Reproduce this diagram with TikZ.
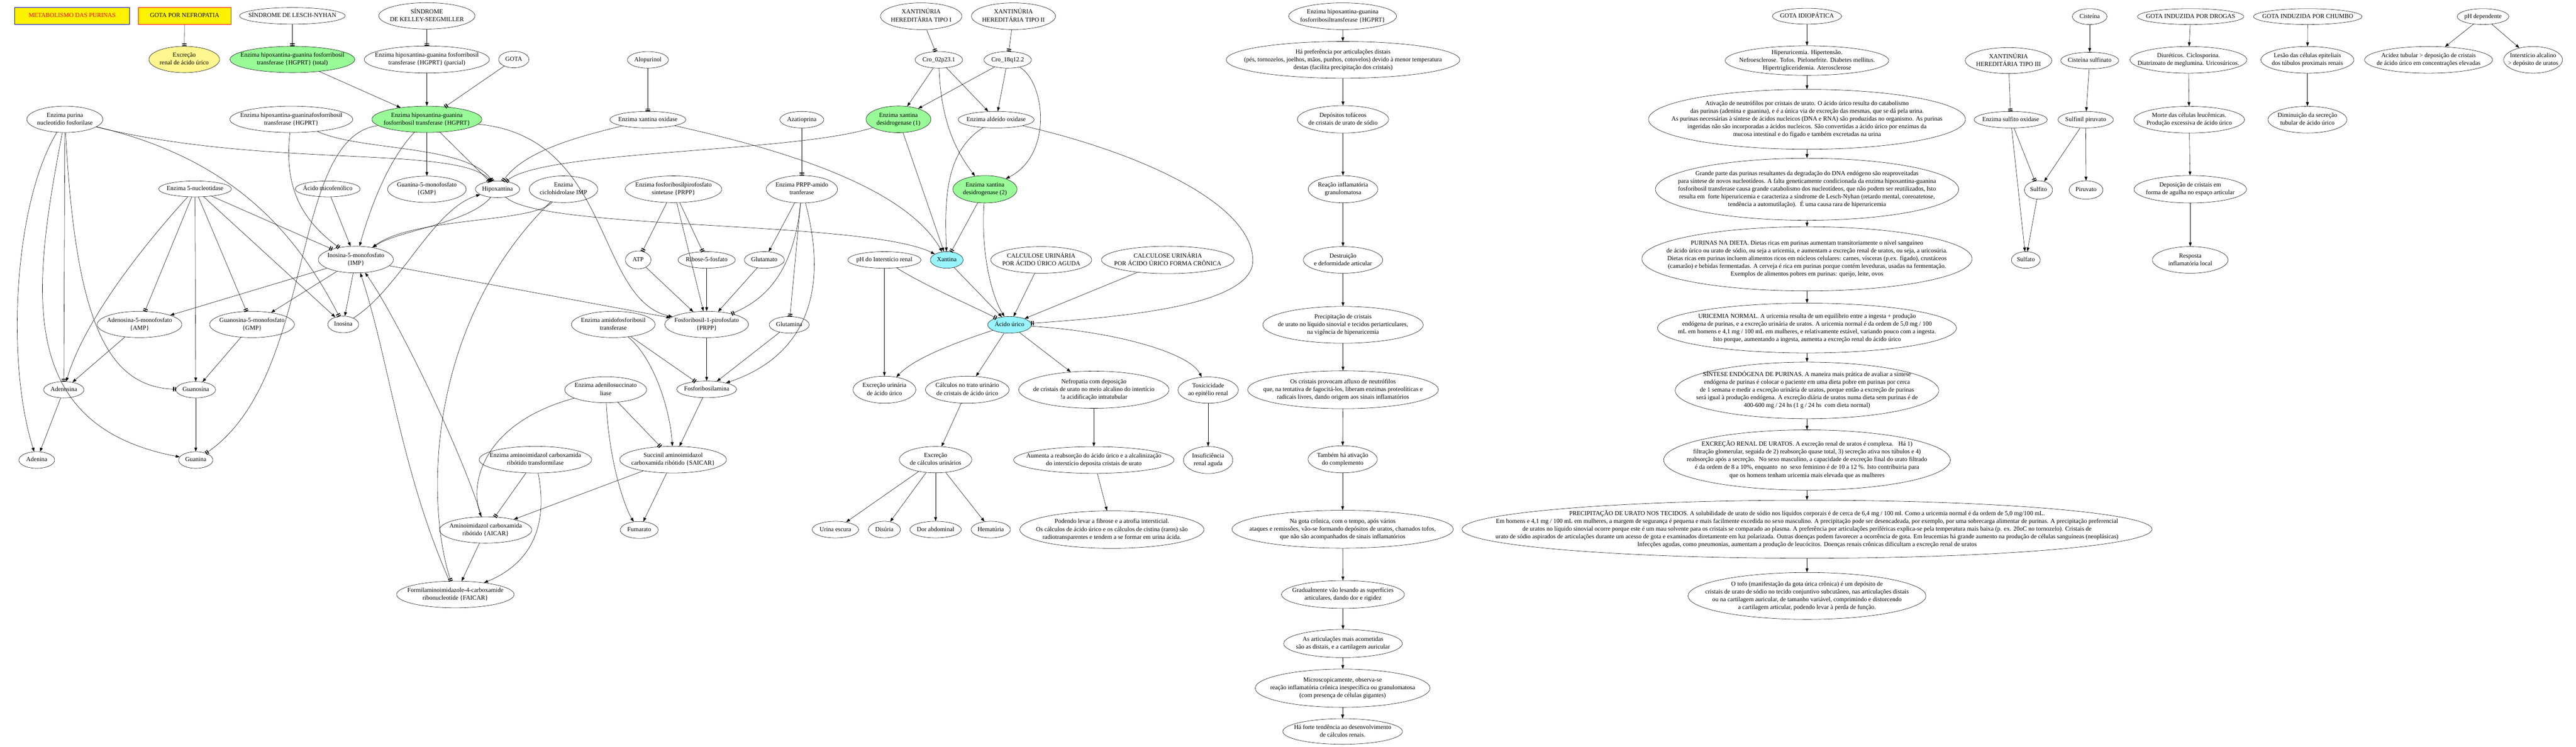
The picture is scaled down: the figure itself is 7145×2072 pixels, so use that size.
\documentclass[tikz,border=0pt]{standalone}
\usepackage{fontspec}
\setmainfont{Liberation Serif}
\usetikzlibrary{shapes.geometric,arrows.meta}
\definecolor{verde}{HTML}{98FB98}
\definecolor{ciano}{HTML}{98F5FF}
\definecolor{caqui}{HTML}{FFF68F}
\newcommand\fonte{\fontsize{17.2}{21.5}\selectfont}
\newcommand\rotulo[1]{\makebox[0pt]{\smash{\raisebox{-0.25em}{\begin{tabular}{@{}c@{}}#1\end{tabular}}}}}

\begin{document}
\begin{tikzpicture}[x=1pt,y=1pt,
  every node/.style={font=\fonte},
  elo/.style={ellipse, draw, line width=0.8pt, inner sep=0pt},
  cx/.style={rectangle, draw, line width=0.8pt, inner sep=0pt},
  tam/.style 2 args={minimum width=#1pt, minimum height=#2pt},
  seta/.style={line width=0.8pt, -{Triangle[length=11pt,width=8pt]}},
  inibe/.style={line width=0.8pt, -{Bar[width=12pt,line width=2.4pt,sep=2.6pt]Bar[width=12pt,line width=2.4pt]}}]
\useasboundingbox (0,0) rectangle (7145,-2072);
% vertices: vias das purinas
\node[cx, tam={318}{48}, fill=yellow, draw=blue, text=red] (meta) at (200,-44) {\rotulo{METABOLISMO DAS PURINAS}};
\node[cx, tam={257}{48}, fill=yellow, draw=red] (gotanef) at (512,-44) {\rotulo{GOTA POR NEFROPATIA}};
\node[elo, tam={293}{46}] (lesch) at (811,-44) {\rotulo{SÍNDROME DE LESCH-NYHAN}};
\node[elo, tam={267}{73}] (kelley) at (1184,-44) {\rotulo{SÍNDROME\\DE KELLEY-SEEGMILLER}};
\node[elo, tam={196}{73}, fill=caqui] (excren) at (511,-165) {\rotulo{Excreção\\renal de ácido úrico}};
\node[elo, tam={346}{73}, fill=verde] (hgprtt) at (811,-165) {\rotulo{Enzima hipoxantina-guanina fosforribosil\\transferase \{HGPRT\} (total)}};
\node[elo, tam={347}{75}] (hgprtp) at (1184,-165) {\rotulo{Enzima hipoxantina-guanina fosforribosil\\transferase \{HGPRT\} (parcial)}};
\node[elo, tam={84}{46}] (gota) at (1425,-165) {\rotulo{GOTA}};
\node[elo, tam={114}{46}] (alop) at (1797,-166) {\rotulo{Alopurinol}};
\node[elo, tam={211}{73}] (pnp) at (180,-331) {\rotulo{Enzima purina\\nucleotídio fosforilase}};
\node[elo, tam={341}{73}] (hgprt2) at (808,-331) {\rotulo{Enzima hipoxantina-guaninafosforribosil\\transferase \{HGPRT\}}};
\node[elo, tam={305}{73}, fill=verde] (hgprt) at (1184,-331) {\rotulo{Enzima hipoxantina-guanina\\fosforribosil transferase \{HGPRT\}}};
\node[elo, tam={211}{46}] (xo) at (1797,-332) {\rotulo{Enzima xantina oxidase}};
\node[elo, tam={202}{44}] (nuc5) at (541,-524) {\rotulo{Enzima 5-nucleotidase}};
\node[elo, tam={180}{44}] (mico) at (909,-524) {\rotulo{Ácido micofenólico}};
\node[elo, tam={218}{73}] (gmpa) at (1184,-525) {\rotulo{Guanina-5-monofosfato\\\{GMP\}}};
\node[elo, tam={123}{46}] (hipox) at (1380,-525) {\rotulo{Hipoxantina}};
\node[elo, tam={190}{74}] (ciclo) at (1563,-525) {\rotulo{Enzima\\ciclohidrolase IMP}};
\node[elo, tam={268}{74}] (prpps) at (1868,-525) {\rotulo{Enzima fosforibosilpirofosfato\\sintetase \{PRPP\}}};
\node[elo, tam={208}{74}] (imp) at (987,-720) {\rotulo{Inosina-5-monofosfato\\\{IMP\}}};
\node[elo, tam={71}{50}] (atp) at (1770,-721) {\rotulo{ATP}};
\node[elo, tam={159}{46}] (rib) at (1960,-721) {\rotulo{Ribose-5-fosfato}};
\node[elo, tam={111}{46}] (glut) at (2120,-721) {\rotulo{Glutamato}};
\node[elo, tam={235}{73}] (amp) at (387,-900) {\rotulo{Adenosina-5-monofosfato\\\{AMP\}}};
\node[elo, tam={235}{73}] (gmp) at (699,-900) {\rotulo{Guanosina-5-monofosfato\\\{GMP\}}};
\node[elo, tam={86}{46}] (inos) at (952,-900) {\rotulo{Inosina}};
\node[elo, tam={232}{73}] (amido) at (1701,-900) {\rotulo{Enzima amidofosforibosil\\transferase}};
\node[elo, tam={232}{73}] (prpp) at (1960,-900) {\rotulo{Fosforibosil-1-pirofosfato\\\{PRPP\}}};
\node[elo, tam={111}{46}] (glutm) at (2189,-901) {\rotulo{Glutamina}};
\node[elo, tam={112}{45}] (adenos) at (177,-1081) {\rotulo{Adenosina}};
\node[elo, tam={110}{45}] (guanos) at (543,-1081) {\rotulo{Guanosina}};
\node[elo, tam={227}{72}] (adsl) at (1680,-1081) {\rotulo{Enzima adenilosuccinato\\liase}};
\node[elo, tam={166}{46}] (pra) at (1960,-1080) {\rotulo{Fosforibosilamina}};
\node[elo, tam={99}{46}] (aden) at (102,-1276) {\rotulo{Adenina}};
\node[elo, tam={95}{46}] (guan) at (543,-1276) {\rotulo{Guanina}};
\node[elo, tam={312}{74}] (transf) at (1485,-1275) {\rotulo{Enzima aminoimidazol carboxamida\\ribótido transformilase}};
\node[elo, tam={296}{74}] (saicar) at (1867,-1275) {\rotulo{Succinil aminoimidazol\\carboxamida ribótido \{SAICAR\}}};
\node[elo, tam={256}{73}] (aicar) at (1347,-1470) {\rotulo{Aminoimidazol carboxamida\\ribótido \{AICAR\}}};
\node[elo, tam={105}{47}] (fum) at (1773,-1470) {\rotulo{Fumarato}};
\node[elo, tam={326}{74}] (faicar) at (1263,-1649) {\rotulo{Formilaminoimidazole-4-carboxamide\\ribonucleotide \{FAICAR\}}};
% vertices: xantina e acido urico
\node[elo, tam={226}{74}] (xant1) at (2555,-45) {\rotulo{XANTINÚRIA\\HEREDITÁRIA TIPO I}};
\node[elo, tam={233}{74}] (xant2) at (2811,-45) {\rotulo{XANTINÚRIA\\HEREDITÁRIA TIPO II}};
\node[elo, tam={132}{46}] (cro2) at (2604,-166) {\rotulo{Cro\_02p23.1}};
\node[elo, tam={132}{46}] (cro18) at (2795,-166) {\rotulo{Cro\_18q12.2}};
\node[elo, tam={122}{46}] (azat) at (2224,-332) {\rotulo{Azatioprina}};
\node[elo, tam={180}{74}, fill=verde] (xdh1) at (2492,-331) {\rotulo{Enzima xantina\\desidrogenase (1)}};
\node[elo, tam={211}{46}] (aldox) at (2763,-332) {\rotulo{Enzima aldeído oxidase}};
\node[elo, tam={198}{76}] (prppat) at (2224,-525) {\rotulo{Enzima PRPP-amido\\tranferase}};
\node[elo, tam={178}{76}, fill=verde] (xdh2) at (2732,-525) {\rotulo{Enzima xantina\\desidrogenase (2)}};
\node[elo, tam={203}{46}] (phint) at (2453,-721) {\rotulo{pH do Interstício renal}};
\node[elo, tam={91}{46}, fill=ciano] (xant) at (2626,-721) {\rotulo{Xantina}};
\node[elo, tam={280}{74}] (calca) at (2888,-721) {\rotulo{CALCULOSE URINÁRIA\\POR ÁCIDO ÚRICO AGUDA}};
\node[elo, tam={368}{76}] (calcc) at (3239,-721) {\rotulo{CALCULOSE URINÁRIA\\POR ÁCIDO ÚRICO FORMA CRÔNICA}};
\node[elo, tam={121}{46}, fill=ciano] (acur) at (2800,-901) {\rotulo{Ácido úrico}};
\node[elo, tam={174}{75}] (excur) at (2453,-1081) {\rotulo{Excreção urinária\\de ácido úrico}};
\node[elo, tam={232}{75}] (calcu) at (2683,-1081) {\rotulo{Cálculos no trato urinário\\de cristais de ácido úrico}};
\node[elo, tam={417}{103}] (nefro) at (3034,-1081) {\rotulo{Nefropatia com deposição\\de cristais de urato no meio alcalino do intertício\\!a acidificação intratubular}};
\node[elo, tam={167}{73}] (toxi) at (3351,-1082) {\rotulo{Toxicicidade\\ao epitélio renal}};
\node[elo, tam={201}{73}] (exccal) at (2595,-1275) {\rotulo{Excreção\\de cálculos urinários}};
\node[elo, tam={445}{74}] (aumenta) at (3034,-1276) {\rotulo{Aumenta a reabsorção do ácido úrico e a alcalinização\\do interstício deposita cristais de urato}};
\node[elo, tam={137}{75}] (insuf) at (3351,-1276) {\rotulo{Insuficiência\\renal aguda}};
\node[elo, tam={129}{46}] (urina) at (2317,-1469) {\rotulo{Urina escura}};
\node[elo, tam={89}{46}] (disu) at (2453,-1469) {\rotulo{Disúria}};
\node[elo, tam={143}{46}] (dor) at (2595,-1469) {\rotulo{Dor abdominal}};
\node[elo, tam={109}{46}] (hema) at (2748,-1469) {\rotulo{Hematúria}};
\node[elo, tam={511}{104}] (podendo) at (3084,-1469) {\rotulo{Podendo levar a fibrose e a atrofia intersticial.\\Os cálculos de ácido úrico e os cálculos de cistina (raros) são\\radiotransparentes e tendem a se formar em urina ácida.}};
% vertices: gota articular
\node[elo, tam={299}{74}] (hgprtd) at (3724,-45) {\rotulo{Enzima hipoxantina-guanina\\fosforribosiltransferase \{HGPRT\}}};
\node[elo, tam={648}{102}] (pref) at (3725,-166) {\rotulo{Há preferência por articulações distais\\(pés, tornozelos, joelhos, mãos, punhos, cotovelos) devido à menor temperatura\\destas (facilita precipitação dos cristais)}};
\node[elo, tam={253}{76}] (depos) at (3725,-331) {\rotulo{Depósitos tofáceos\\de cristais de urato de sódio}};
\node[elo, tam={193}{75}] (reac) at (3725,-525) {\rotulo{Reação inflamatória\\granulomatosa}};
\node[elo, tam={220}{74}] (destr) at (3725,-721) {\rotulo{Destruição\\e deformidade articular}};
\node[elo, tam={445}{102}] (precip) at (3725,-901) {\rotulo{Precipitação de cristais\\de urato no líquido sinovial e tecidos periarticulares,\\na vigência de hiperuricemia}};
\node[elo, tam={529}{105}] (crist) at (3725,-1081) {\rotulo{Os cristais provocam afluxo de neutrófilos\\que, na tentativa de fagocitá-los, liberam enzimas proteolíticas e\\radicais livres, dando origem aos sinais inflamatórios}};
\node[elo, tam={192}{75}] (compl) at (3724,-1274) {\rotulo{Também há ativação\\do complemento}};
\node[elo, tam={614}{105}] (cronica) at (3724,-1468) {\rotulo{Na gota crônica, com o tempo, após vários\\ataques e remissões, vão-se formando depósitos de uratos, chamados tofos,\\que não são acompanhados de sinais inflamatórios}};
\node[elo, tam={341}{77}] (grad) at (3725,-1649) {\rotulo{Gradualmente vão lesando as superfícies\\articulares, dando dor e rigidez}};
\node[elo, tam={329}{78}] (artic) at (3725,-1785) {\rotulo{As articulações mais acometidas\\são as distais, e a cartilagem auricular}};
\node[elo, tam={485}{106}] (micro) at (3724,-1909) {\rotulo{Microscopicamente, observa-se\\reação inflamatória crônica inespecífica ou granulomatosa\\(com presença de células gigantes)}};
\node[elo, tam={332}{71}] (tend) at (3724,-2029) {\rotulo{Há forte tendência ao desenvolvimento\\de cálculos renais.}};
% vertices: gota idiopatica
\node[elo, tam={192}{44}] (idio) at (5012,-45) {\rotulo{GOTA IDIOPÁTICA}};
\node[elo, tam={454}{82}] (hiper) at (5012,-168) {\rotulo{Hiperuricemia. Hipertensão.\\Nefroesclerose. Tofos. Pielonefrite. Diabetes mellitus.\\Hipertrigliceridemia. Aterosclerose}};
\node[elo, tam={879}{166}] (ativ) at (5012,-331) {\rotulo{Ativação de neutrófilos por cristais de urato. O ácido úrico resulta do catabolismo\\das purinas (adenina e guanina), e é a única via de excreção das mesmas, que se dá pela urina.\\As purinas necessárias à síntese de ácidos nucleicos (DNA e RNA) são produzidas no organismo. As purinas\\ingeridas não são incorporadas a ácidos nucleicos. São convertidas a ácido úrico por enzimas da\\mucosa intestinal e do fígado e também excretadas na urina}};
\node[elo, tam={841}{172}] (grande) at (5012,-525) {\rotulo{Grande parte das purinas resultantes da degradação do DNA endógeno são reaproveitadas\\para síntese de novos nucleotídeos. A falta geneticamente condicionada da enzima hipoxantina-guanina\\fosforibosil transferase causa grande catabolismo dos nucleotídeos, que não podem ser reutilizados, Isto\\resulta em \ forte hiperuricemia e caracteriza a síndrome de Lesch-Nyhan (retardo mental, coreoatetose,\\tendência a automutilação). \ É uma causa rara de hiperuricemia}};
\node[elo, tam={916}{178}] (dieta) at (5012,-718) {\rotulo{PURINAS NA DIETA. Dietas ricas em purinas aumentam transitoriamente o nível sanguíneo\\de ácido úrico ou urato de sódio, ou seja a uricemia, e aumentam a excreção renal de uratos, ou seja, a uricosúria.\\Dietas ricas em purinas incluem alimentos ricos em núcleos celulares: carnes, vísceras (p.ex. fígado), crustáceos\\(camarão) e bebidas fermentadas. A cerveja é rica em purinas porque contém leveduras, usadas na fermentação.\\Exemplos de alimentos pobres em purinas: queijo, leite, ovos}};
\node[elo, tam={829}{138}] (urnorm) at (5012,-910) {\rotulo{URICEMIA NORMAL. A uricemia resulta de um equilíbrio entre a ingesta + produção\\endógena de purinas, e a excreção urinária de uratos. A uricemia normal é da ordem de 5,0 mg / 100\\mL em homens e 4,1 mg / 100 mL em mulheres, e relativamente estável, variando pouco com a ingesta.\\Isto porque, aumentando a ingesta, aumenta a excreção renal do ácido úrico}};
\node[elo, tam={731}{157}] (sintese) at (5012,-1083) {\rotulo{SÍNTESE ENDÓGENA DE PURINAS. A maneira mais prática de avaliar a síntese\\endógena de purinas é colocar o paciente em uma dieta pobre em purinas por cerca\\de 1 semana e medir a excreção urinária de uratos, porque então a excreção de purinas\\será igual à produção endógena. A excreção diária de uratos numa dieta sem purinas é de\\400-600 mg / 24 hs (1 g / 24 hs \ com dieta normal)}};
\node[elo, tam={795}{167}] (excrenal) at (5012,-1276) {\rotulo{EXCREÇÃO RENAL DE URATOS. A excreção renal de uratos é complexa. \ \ Há 1)\\filtração glomerular, seguida de 2) reabsorção quase total, 3) secreção ativa nos túbulos e 4)\\reabsorção após a secreção. \ No sexo masculino, a capacidade de excreção final do urato filtrado\\é da ordem de 8 a 10\%, enquanto \ no \ sexo feminino é de 10 a 12 \%. Isto contribuiria para\\que os homens tenham uricemia mais elevada que as mulheres}};
\node[elo, tam={1914}{161}] (precur) at (5012,-1468) {\rotulo{PRECIPITAÇÃO DE URATO NOS TECIDOS. A solubilidade de urato de sódio nos líquidos corporais é de cerca de 6,4 mg / 100 ml. Como a uricemia normal é da ordem de 5,0 mg/100 mL.\\Em homens e 4,1 mg / 100 mL em mulheres, a margem de segurança é pequena e mais facilmente excedida no sexo masculino. A precipitação pode ser desencadeada, por exemplo, por uma sobrecarga alimentar de purinas. A precipitação preferencial\\de uratos no líquido sinovial ocorre porque este é um mau solvente para os cristais se comparado ao plasma. A preferência por articulações periféricas explica-se pela temperatura mais baixa (p. ex. 20oC no tornozelo). Cristais de\\urato de sódio aspirados de articulações durante um acesso de gota e examinados diretamente em luz polarizada. Outras doenças podem favorecer a ocorrência de gota. Em leucemias há grande aumento na produção de células sanguíneas (neoplásicas)\\Infecções agudas, como pneumonias, aumentam a produção de leucócitos. Doenças renais crônicas dificultam a excreção renal de uratos}};
\node[elo, tam={660}{130}] (tofo) at (5012,-1653) {\rotulo{O tofo (manifestação da gota úrica crônica) é um depósito de\\cristais de urato de sódio no tecido conjuntivo subcutâneo, nas articulações distais\\ou na cartilagem auricular, de tamanho variável, comprimindo e distorcendo\\a cartilagem articular, podendo levar à perda de função.}};
% vertices: outras causas
\node[elo, tam={240}{72}] (xant3) at (5571,-168) {\rotulo{XANTINÚRIA\\HEREDITÁRIA TIPO III}};
\node[elo, tam={96}{44}] (cist) at (5796,-46) {\rotulo{Cisteína}};
\node[elo, tam={161}{46}] (cistsulf) at (5796,-168) {\rotulo{Cisteína sulfinato}};
\node[elo, tam={203}{46}] (sulfox) at (5577,-332) {\rotulo{Enzima sulfito oxidase}};
\node[elo, tam={154}{46}] (sulfpir) at (5785,-332) {\rotulo{Sulfinil piruvato}};
\node[elo, tam={78}{51}] (sulfito) at (5654,-527) {\rotulo{Sulfito}};
\node[elo, tam={94}{51}] (piruv) at (5786,-527) {\rotulo{Piruvato}};
\node[elo, tam={80}{46}] (sulfato) at (5619,-721) {\rotulo{Sulfato}};
\node[elo, tam={295}{44}] (drogas) at (6076,-46) {\rotulo{GOTA INDUZIDA POR DROGAS}};
\node[elo, tam={324}{74}] (diur) at (6070,-166) {\rotulo{Diuréticos. Ciclosporina.\\Diatrizoato de meglumina. Uricosúricos.}};
\node[elo, tam={307}{74}] (morte) at (6072,-332) {\rotulo{Morte das células leucêmicas.\\Produção excessiva de ácido úrico}};
\node[elo, tam={312}{76}] (depag) at (6075,-525) {\rotulo{Deposição de cristais em\\forma de agulha no espaço articular}};
\node[elo, tam={210}{74}] (resp) at (6075,-721) {\rotulo{Resposta\\inflamatória local}};
\node[elo, tam={301}{44}] (chumbo) at (6401,-46) {\rotulo{GOTA INDUZIDA POR CHUMBO}};
\node[elo, tam={258}{74}] (lesao) at (6400,-166) {\rotulo{Lesão das células epiteliais\\dos túbulos proximais renais}};
\node[elo, tam={219}{74}] (dimin) at (6400,-332) {\rotulo{Diminuição da secreção\\tubular de ácido úrico}};
\node[elo, tam={143}{44}] (phdep) at (6887,-46) {\rotulo{pH dependente}};
\node[elo, tam={355}{74}] (acidez) at (6736,-166) {\rotulo{Acidez tubular > deposição de cristais\\de ácido úrico em concentrações elevadas}};
\node[elo, tam={163}{74}] (inters) at (7026,-166) {\rotulo{Interstício alcalino\\> depósito de uratos}};
% edges: vias das purinas
\draw[inibe] (gotanef) -- (excren);
\draw[inibe] (lesch) -- (hgprtt);
\draw[seta] (hgprtt) -- (hgprt);
\draw[inibe] (kelley) -- (hgprtp);
\draw[seta] (hgprtp) -- (hgprt);
\draw[inibe] (gota) -- (hgprt);
\draw[inibe] (alop) -- (xo);
\draw[seta] (pnp) .. controls (40,-560) and (15,-1000) .. (aden);
\draw[seta] (pnp) .. controls (90,-800) and (40,-1180) .. (guan);
\draw[inibe] (pnp) -- (adenos);
\draw[inibe] (pnp) .. controls (210,-900) and (300,-1075) .. (guanos);
\draw[inibe] (pnp) .. controls (600,-430) and (800,-600) .. (inos);
\draw[inibe] (pnp) .. controls (750,-470) and (1280,-400) .. (hipox);
\draw[seta] (nuc5) .. controls (380,-700) and (230,-900) .. (adenos);
\draw[inibe] (nuc5) -- (amp);
\draw[seta] (nuc5) -- (guanos);
\draw[inibe] (nuc5) -- (gmp);
\draw[seta] (nuc5) -- (inos);
\draw[inibe] (nuc5) -- (imp);
\draw[seta] (amp) -- (adenos);
\draw[seta] (gmp) -- (guanos);
\draw[seta] (adenos) -- (aden);
\draw[seta] (guanos) -- (guan);
\draw[seta] (imp) -- (amp);
\draw[seta] (imp) -- (gmp);
\draw[seta] (imp) -- (inos);
\draw[seta] (mico) -- (imp);
\draw[inibe] (hgprt2) .. controls (790,-500) and (820,-600) .. (imp);
\draw[inibe] (hgprt2) .. controls (1000,-420) and (1300,-400) .. (hipox);
\draw[seta] (hgprt) .. controls (1070,-450) and (1020,-600) .. (imp);
\draw[seta] (hgprt) -- (gmpa);
\draw[inibe] (hgprt) -- (hipox);
\draw[seta] (hgprt) .. controls (1700,-380) and (1650,-830) .. (prpp);
\draw[inibe] (hgprt) .. controls (800,-380) and (880,-1050) .. (guan);
\draw[inibe] (xo) .. controls (1600,-380) and (1450,-420) .. (hipox);
\draw[seta] (xo) .. controls (2100,-400) and (2500,-500) .. (xant);
\draw[seta] (hipox) .. controls (1500,-640) and (2400,-610) .. (xant);
\draw[seta] (hipox) .. controls (1300,-620) and (1100,-640) .. (imp);
\draw[seta] (inos) .. controls (1110,-800) and (1200,-580) .. (hipox);
\draw[seta] (ciclo) .. controls (1480,-620) and (1150,-600) .. (imp);
\draw[inibe] (ciclo) .. controls (1180,-900) and (1180,-1400) .. (faicar);
\draw[seta] (imp) -- (prpp);
\draw[inibe] (prpps) -- (atp);
\draw[inibe] (prpps) -- (rib);
\draw[seta] (prpps) -- (prpp);
\draw[seta] (atp) -- (prpp);
\draw[seta] (rib) -- (prpp);
\draw[seta] (glut) -- (prpp);
\draw[seta] (prpp) -- (pra);
\draw[inibe] (amido) -- (pra);
\draw[seta] (amido) .. controls (1820,-1000) and (1860,-1150) .. (saicar);
\draw[seta] (prppat) -- (glut);
\draw[inibe] (prppat) .. controls (2200,-780) and (2100,-840) .. (prpp);
\draw[inibe] (prppat) -- (glutm);
\draw[seta] (prppat) .. controls (2310,-850) and (2200,-1000) .. (pra);
\draw[inibe] (azat) -- (prppat);
\draw[seta] (glutm) -- (pra);
\draw[seta] (pra) -- (saicar);
\draw[inibe] (adsl) -- (saicar);
\draw[seta] (adsl) .. controls (1690,-1300) and (1740,-1420) .. (fum);
\draw[seta] (adsl) .. controls (1350,-1170) and (1300,-1330) .. (aicar);
\draw[seta] (saicar) -- (aicar);
\draw[seta] (saicar) -- (fum);
\draw[inibe] (transf) -- (aicar);
\draw[seta] (transf) .. controls (1520,-1450) and (1480,-1560) .. (faicar);
\draw[seta] (aicar) -- (faicar);
\draw[seta] (aicar) .. controls (1280,-1250) and (1100,-880) .. (imp);
\draw[seta] (faicar) .. controls (1110,-1300) and (1080,-1000) .. (imp);
% edges: xantina e acido urico
\draw[inibe] (xant1) -- (cro2);
\draw[inibe] (xant2) -- (cro18);
\draw[seta] (cro2) -- (xdh1);
\draw[seta] (cro2) -- (aldox);
\draw[seta] (cro2) .. controls (2610,-350) and (2660,-430) .. (xdh2);
\draw[seta] (cro18) -- (xdh1);
\draw[seta] (cro18) -- (aldox);
\draw[seta] (cro18) .. controls (2900,-230) and (2920,-430) .. (xdh2);
\draw[seta] (xdh1) -- (xant);
\draw[inibe] (xdh1) .. controls (2200,-425) and (1500,-415) .. (hipox);
\draw[seta] (aldox) .. controls (2620,-420) and (2620,-560) .. (xant);
\draw[inibe] (aldox) .. controls (3150,-420) and (3470,-560) .. (3475,-720)
  .. controls (3480,-850) and (3100,-880) .. (acur);
\draw[inibe] (xdh2) -- (xant);
\draw[seta] (xdh2) .. controls (2720,-700) and (2750,-820) .. (acur);
\draw[seta] (xant) -- (acur);
\draw[inibe] (phint) .. controls (2560,-790) and (2700,-850) .. (acur);
\draw[seta] (phint) -- (excur);
\draw[seta] (calca) -- (acur);
\draw[seta] (calcc) -- (acur);
\draw[seta] (acur) .. controls (2620,-960) and (2530,-1000) .. (excur);
\draw[seta] (acur) -- (calcu);
\draw[seta] (acur) -- (nefro);
\draw[seta] (acur) .. controls (3100,-920) and (3300,-980) .. (toxi);
\draw[seta] (calcu) -- (exccal);
\draw[seta] (exccal) -- (urina);
\draw[seta] (exccal) -- (disu);
\draw[seta] (exccal) -- (dor);
\draw[seta] (exccal) -- (hema);
\draw[seta] (nefro) -- (aumenta);
\draw[seta] (aumenta) -- (podendo);
\draw[seta] (toxi) -- (insuf);
% edges: gota articular
\draw[seta] (hgprtd) -- (pref);
\draw[seta] (pref) -- (depos);
\draw[seta] (depos) -- (reac);
\draw[seta] (reac) -- (destr);
\draw[seta] (destr) -- (precip);
\draw[seta] (precip) -- (crist);
\draw[seta] (crist) -- (compl);
\draw[seta] (compl) -- (cronica);
\draw[seta] (cronica) -- (grad);
\draw[seta] (grad) -- (artic);
\draw[seta] (artic) -- (micro);
\draw[seta] (micro) -- (tend);
% edges: gota idiopatica
\draw[seta] (idio) -- (hiper);
\draw[seta] (hiper) -- (ativ);
\draw[seta] (ativ) -- (grande);
\draw[seta] (grande) -- (dieta);
\draw[seta] (dieta) -- (urnorm);
\draw[seta] (urnorm) -- (sintese);
\draw[seta] (sintese) -- (excrenal);
\draw[seta] (excrenal) -- (precur);
\draw[seta] (precur) -- (tofo);
% edges: outras causas
\draw[inibe] (xant3) -- (sulfox);
\draw[inibe] (sulfox) -- (sulfito);
\draw[seta] (sulfox) -- (sulfato);
\draw[seta] (cist) -- (cistsulf);
\draw[seta] (cistsulf) -- (sulfpir);
\draw[seta] (sulfpir) -- (sulfito);
\draw[seta] (sulfpir) -- (piruv);
\draw[seta] (sulfito) -- (sulfato);
\draw[seta] (drogas) -- (diur);
\draw[seta] (diur) -- (morte);
\draw[seta] (morte) -- (depag);
\draw[seta] (depag) -- (resp);
\draw[seta] (chumbo) -- (lesao);
\draw[seta] (lesao) -- (dimin);
\draw[seta] (phdep) -- (acidez);
\draw[seta] (phdep) -- (inters);
\end{tikzpicture}
\end{document}
